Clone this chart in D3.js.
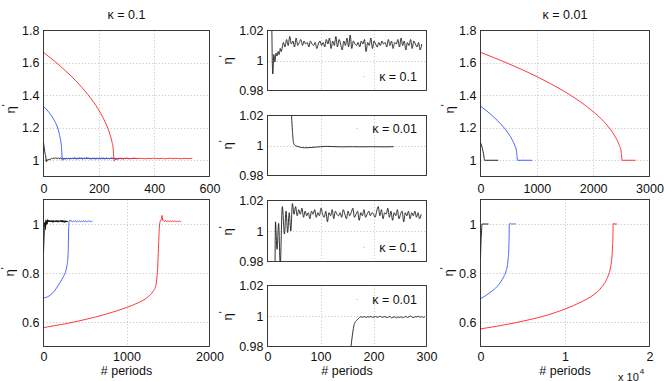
<!DOCTYPE html>
<html><head><meta charset="utf-8">
<script src="https://cdn.jsdelivr.net/npm/d3@7"></script>
<style>
body{margin:0;background:#fff}
text{font-family:"Liberation Sans",Arial,Helvetica,sans-serif;fill:#111}
</style>
</head><body>
<svg id="c" width="664" height="381"></svg>
<script>
// ---------------- DATA ----------------
const titles = ["κ = 0.1", "κ = 0.01"];
const legendLabels = ["κ = 0.1", "κ = 0.01", "κ = 0.1", "κ = 0.01"];

// tick values / labels
const tlXTicks = [0, 200, 400, 600],  tlXLabels = ["0", "200", "400", "600"];
const tlYTicks = [1, 1.2, 1.4, 1.6, 1.8], tlYLabels = ["1", "1.2", "1.4", "1.6", "1.8"];
const blXTicks = [0, 1000, 2000], blXLabels = ["0", "1000", "2000"];
const blYTicks = [0.6, 0.8, 1], blYLabels = ["0.6", "0.8", "1"];
const trXTicks = [0, 1000, 2000, 3000], trXLabels = ["0", "1000", "2000", "3000"];
const brXTicks = [0, 10000, 20000], brXLabels = ["0", "1", "2"];
const mXTicks = [0, 100, 200, 300], mXLabels = ["0", "100", "200", "300"];
const mYTicks = [0.98, 1, 1.02], mYLabels = ["0.98", "1", "1.02"];

// kappa = 0.1, start from eta' > 1 (black) : initial part and noisy tail (x from 30, every 3 periods)
const k01HighBlackStart = [[0,1.11],[3,1.07],[6,1.04],[8,1.025],[9,1.0],[10,0.991],[12,1.004],[14,0.999],[16,1.005],[18,1.003],[20,1.006],[22,1.004],[24,1.008],[26,1.006],[28,1.009]];
const k01HighBlackTail = [
1.012,1.009,1.014,1.010,1.016,1.011,1.013,1.009,1.015,1.010,
1.012,1.014,1.010,1.013,1.011,1.012,1.009,1.013,1.011,1.010,
1.012,1.008,1.011,1.013,1.010,1.012,1.009,1.014,1.011,1.015,
1.008,1.013,1.010,1.016,1.009,1.014,1.011,1.007,1.013,1.010,
1.015,1.009,1.017,1.008,1.013,1.011,1.010,1.012,1.009,1.013,
1.011,1.014,1.006,1.012,1.010,1.015,1.008,1.013,1.011,1.009,
1.012,1.010,1.013,1.011,1.012,1.009,1.014,1.010,1.013,1.008,
1.012,1.011,1.014,1.009,1.015,1.010,1.013,1.007,1.012,1.010,
1.014,1.008,1.013,1.011,1.009,1.012,1.007,1.011];
const k01HighBlue = [[0,1.333],[10,1.315],[20,1.295],[30,1.272],[40,1.243],[50,1.205],[56,1.17],[61,1.13],[65,1.08],[68,1.0]];
const k01HighBlueTail = [1.006,1.009,1.011,1.010,1.012,1.009,1.011,1.013,1.010,1.012,1.009,1.011,1.012,1.010,1.013,1.009,1.011,1.010,1.012,1.011,1.009,1.012,1.010,1.013,1.011,1.010,1.012,1.011];
const k01HighRed = [[0,1.665],[20,1.638],[40,1.611],[60,1.582],[80,1.551],[100,1.519],[120,1.484],[140,1.447],[160,1.406],[180,1.361],[200,1.309],[215,1.263],[230,1.208],[240,1.161],[248,1.110],[252,1.072],[255,0.995]];
const k01HighRedTail = [1.004,1.008,1.011,1.010,1.012,1.009,1.011,1.013,1.010,1.012,1.011,1.009,1.012,1.010,1.013,1.011,1.010,1.012,1.009,1.011,1.013,1.010,1.012,1.011,1.009,1.012,1.010,1.011,1.012];

// kappa = 0.1, start from eta' < 1
const k01LowBlackStart = [[0,0.88],[4,0.92],[8,0.95],[12,0.97],[14,0.975],[15,1.006],[18,0.988],[21,1.005],[24,0.978],[28,1.016],[32,0.998],[35,1.013],[38,0.999],[41,1.012],[44,1.0],[47,1.018],[50,1.011]];
const k01LowBlackTail = [
1.016,1.010,1.014,1.011,1.015,1.009,1.013,1.010,1.012,1.008,
1.013,1.011,1.014,1.009,1.012,1.010,1.015,1.011,1.009,1.013,
1.006,1.012,1.010,1.014,1.008,1.013,1.011,1.010,1.012,1.009,
1.014,1.011,1.008,1.013,1.010,1.012,1.015,1.009,1.011,1.013,
1.007,1.012,1.010,1.014,1.009,1.011,1.013,1.010,1.012,1.011,
1.009,1.013,1.016,1.010,1.014,1.008,1.012,1.011,1.015,1.009,
1.013,1.007,1.012,1.010,1.014,1.008,1.011,1.013,1.006,1.012,
1.010,1.013,1.008,1.012,1.010,1.013,1.009,1.012,1.008,1.011];
const k01LowBlue = [[0,0.698],[50,0.703],[100,0.715],[150,0.735],[200,0.762],[240,0.785],[270,0.81],[285,0.835],[295,0.87],[300,0.92],[303,0.98],[307,1.005]];
const k01LowBlueTail = [1.012,1.016,1.011,1.013,1.009,1.012,1.010,1.014,1.011,1.009,1.012,1.010,1.013,1.011,1.009,1.012,1.010,1.013,1.011,1.010,1.012,1.009,1.011,1.013,1.010,1.012,1.011,1.010,1.012];
const k01LowRed = [[0,0.577],[250,0.592],[500,0.610],[750,0.632],[1000,0.659],[1150,0.68],[1250,0.70],[1320,0.725],[1350,0.745],[1365,0.775],[1375,0.82],[1385,0.90],[1395,0.98],[1405,1.01],[1420,1.02],[1428,1.035],[1435,1.015]];
const k01LowRedTail = [1.018,1.013,1.011,1.014,1.010,1.012,1.011,1.013,1.009,1.012,1.010,1.011,1.013,1.010,1.012,1.011,1.009,1.012,1.010,1.011,1.012,1.010,1.011];

// kappa = 0.01, start from eta' > 1
const k001HighBlack = [[0,1.108],[15,1.095],[30,1.078],[45,1.055],[58,1.03],[66,1.012],[72,1.0],[313,1.0]];
const k001HighBlue = [[0,1.333],[100,1.307],[200,1.278],[300,1.245],[400,1.208],[500,1.163],[560,1.128],[610,1.089],[640,1.054],[657,1.0],[916,1.0]];
const k001HighRed = [[0,1.665],[250,1.631],[500,1.595],[750,1.557],[1000,1.516],[1250,1.471],[1500,1.422],[1750,1.366],[2000,1.300],[2150,1.253],[2300,1.193],[2400,1.140],[2460,1.096],[2500,1.046],[2512,1.0],[2753,1.0]];
const k001HighBlackZoom = [[44,1.03],[47,1.01],[49,1.002],[52,1.0],[56,0.9995],[62,0.9988],[70,0.9985],[80,0.9986],[90,0.9989],[100,0.9992],[110,0.9994],[120,0.9993],[140,0.9991],[160,0.9992],[180,0.9991],[200,0.9992],[220,0.9991],[238,0.9992]];

// kappa = 0.01, start from eta' < 1
const k001LowBlack = [[0,0.86],[40,0.91],[90,0.95],[130,0.975],[160,0.995],[180,1.0],[950,1.0]];
const k001LowBlue = [[0,0.695],[500,0.705],[1000,0.717],[1500,0.73],[2000,0.746],[2400,0.764],[2770,0.786],[3000,0.805],[3170,0.828],[3280,0.86],[3350,0.9],[3390,0.95],[3410,1.0],[3600,1.002],[3700,0.999],[3800,1.001],[3900,0.999],[4000,1.001],[4180,1.0]];
const k001LowRed = [[0,0.572],[2000,0.583],[4000,0.596],[6000,0.611],[8000,0.629],[10000,0.653],[11000,0.667],[12000,0.683],[13000,0.702],[13800,0.722],[14400,0.745],[14900,0.772],[15200,0.797],[15400,0.825],[15550,0.865],[15630,0.91],[15680,0.96],[15700,1.0],[15750,1.003],[15800,1.0],[16150,1.0]];
const k001LowBlackZoomStart = [[157,0.978],[160,0.987],[164,0.995],[168,0.997],[172,0.9985],[176,0.9995],[180,0.9992]];
const k001LowBlackZoomTail = [
0.9996,0.9990,0.9995,0.9993,0.9997,0.9991,0.9994,0.9996,0.9992,0.9995,
0.9998,0.9990,0.9994,0.9996,0.9989,0.9993,0.9997,0.9988,0.9992,0.9995,
0.9987,0.9994,0.9990,0.9996,0.9988,0.9993,0.9997,0.9991,0.9995,0.9999,
0.9993,0.9990,0.9996,0.9994,0.9998,0.9992,0.9996,0.9991,0.9995];

// ---------------- HELPERS ----------------
function withTail(start, x0, step, ys){ return start.concat(ys.map((v,i)=>[x0+step*i, v])); }

const k01HighBlackAll = withTail(k01HighBlackStart, 30, 3, k01HighBlackTail);
const k01LowBlackAll  = withTail(k01LowBlackStart, 53, 3, k01LowBlackTail);
const k01HighBlueAll  = withTail(k01HighBlue, 70, 10, k01HighBlueTail);
const k01HighRedAll   = withTail(k01HighRed, 258, 10, k01HighRedTail);
const k01LowBlueAll   = withTail(k01LowBlue, 310, 10, k01LowBlueTail);
const k01LowRedAll    = withTail(k01LowRed, 1440, 10, k01LowRedTail);
const k001LowBlackZoomAll = withTail(k001LowBlackZoomStart, 183, 3, k001LowBlackZoomTail);

const RED = "#ff2424", BLUE = "#3355ff", BLACK = "#111", DARK = "#1c1c1c";

const svg = d3.select("#c");
svg.append("rect").attr("width",664).attr("height",381).attr("fill","#fff");

const panels = [
 {x0:43.5,x1:209.5,y0:30.5,y1:176.5,xd:[0,600],yd:[0.9,1.8],xt:tlXTicks,xl:tlXLabels,yt:tlYTicks,yl:tlYLabels,xb:192.5,
  series:[[k01HighBlackAll,BLACK],[k01HighBlueAll,BLUE],[k01HighRedAll,RED]], ylab:[14.5,109]},
 {x0:43.5,x1:209.5,y0:199.5,y1:346.5,xd:[0,2000],yd:[0.5,1.1],xt:blXTicks,xl:blXLabels,yt:blYTicks,yl:blYLabels,xb:360.5,
  series:[[k01LowBlackAll,BLACK],[k01LowBlueAll,BLUE],[k01LowRedAll,RED]], ylab:[14,272]},
 {x0:480.5,x1:649.5,y0:30.5,y1:176.5,xd:[0,3000],yd:[0.9,1.8],xt:trXTicks,xl:trXLabels,yt:tlYTicks,yl:tlYLabels,xb:192.5,
  series:[[k001HighBlack,BLACK],[k001HighBlue,BLUE],[k001HighRed,RED]], ylab:[453.5,109]},
 {x0:480.5,x1:649.5,y0:199.5,y1:346.5,xd:[0,20000],yd:[0.5,1.1],xt:brXTicks,xl:brXLabels,yt:blYTicks,yl:blYLabels,xb:360.5,
  series:[[k001LowBlack,BLACK],[k001LowBlue,BLUE],[k001LowRed,RED]], ylab:[453,272]},
 {x0:267.5,x1:426.5,y0:30.5,y1:90.5,xd:[0,300],yd:[0.98,1.02],xt:mXTicks,xl:null,yt:mYTicks,yl:mYLabels,
  series:[[k01HighBlackAll,DARK]], ylab:[232,60], leg:[0,81,363]},
 {x0:267.5,x1:426.5,y0:115.5,y1:175.5,xd:[0,300],yd:[0.98,1.02],xt:mXTicks,xl:null,yt:mYTicks,yl:mYLabels,
  series:[[k001HighBlackZoom,DARK]], ylab:[232,145], leg:[1,133,356]},
 {x0:267.5,x1:426.5,y0:200.5,y1:261.5,xd:[0,300],yd:[0.98,1.02],xt:mXTicks,xl:null,yt:mYTicks,yl:mYLabels,
  series:[[k01LowBlackAll,DARK]], ylab:[232,231], leg:[2,252,363]},
 {x0:267.5,x1:426.5,y0:285.5,y1:346.5,xd:[0,300],yd:[0.98,1.02],xt:mXTicks,xl:mXLabels,yt:mYTicks,yl:mYLabels,xb:360.5,
  series:[[k001LowBlackZoomAll,DARK]], ylab:[232,316], leg:[3,304,356]}
];

panels.forEach((p,pi)=>{
  const x = d3.scaleLinear().domain(p.xd).range([p.x0,p.x1]);
  const y = d3.scaleLinear().domain(p.yd).range([p.y1,p.y0]);
  const g = svg.append("g");
  // grid
  g.selectAll("line.gx").data(p.xt.filter(v=>v>p.xd[0]&&v<p.xd[1])).enter().append("line")
    .attr("x1",d=>Math.round(x(d))+0.5).attr("x2",d=>Math.round(x(d))+0.5).attr("y1",p.y0).attr("y2",p.y1)
    .attr("stroke","#a8a8a8").attr("stroke-width",0.7).attr("stroke-dasharray","1,2.2");
  g.selectAll("line.gy").data(p.yt.filter(v=>v>p.yd[0]+1e-9&&v<p.yd[1]-1e-9)).enter().append("line")
    .attr("y1",d=>Math.round(y(d))+0.5).attr("y2",d=>Math.round(y(d))+0.5).attr("x1",p.x0).attr("x2",p.x1)
    .attr("stroke","#a8a8a8").attr("stroke-width",0.7).attr("stroke-dasharray","1,2.2");
  // clip
  const cid = "clip"+pi;
  svg.append("clipPath").attr("id",cid).append("rect")
    .attr("x",p.x0).attr("y",p.y0).attr("width",p.x1-p.x0).attr("height",p.y1-p.y0);
  const line = d3.line().x(d=>x(d[0])).y(d=>y(d[1])).curve(d3.curveMonotoneX);
  const lg = g.append("g").attr("clip-path","url(#"+cid+")");
  p.series.forEach(([d,c])=>{
    lg.append("path").attr("d",line(d)).attr("fill","none").attr("stroke",c)
      .attr("stroke-width",0.9).attr("stroke-linejoin","round");
  });
  // border
  g.append("rect").attr("x",p.x0).attr("y",p.y0).attr("width",p.x1-p.x0).attr("height",p.y1-p.y0)
    .attr("fill","none").attr("stroke","#262626").attr("stroke-width",0.9);
  // y axis labels
  const ya = g.append("g").attr("transform","translate("+p.x0+",0)")
    .call(d3.axisLeft(y).tickValues(p.yt).tickFormat((d,i)=>p.yl[i]).tickSize(0).tickPadding(4));
  ya.select(".domain").remove();
  ya.selectAll("text").attr("font-size","12.5px").attr("font-family",null).attr("fill","#111");
  // x axis labels
  if (p.xl){
    const xa = g.append("g").attr("transform","translate(0,"+p.y1+")")
      .call(d3.axisBottom(x).tickValues(p.xt).tickFormat((d,i)=>p.xl[i]).tickSize(0));
    xa.select(".domain").remove();
    xa.selectAll("text").attr("dy",null).attr("y",p.xb-p.y1).attr("font-size","12.5px")
      .attr("font-family",null).attr("fill","#111");
  }
  // y label eta'
  const yl = g.append("text").attr("transform","translate("+p.ylab[0]+","+p.ylab[1]+") rotate(-90)")
    .attr("text-anchor","middle").attr("font-size","13px");
  yl.append("tspan").text("η");
  yl.append("tspan").attr("dy",-5).attr("font-size","10px").text("'");
  // legend
  if (p.leg){
    g.append("line").attr("x1",p.leg[2]).attr("x2",p.leg[2]+1.5).attr("y1",p.leg[1]-4.5).attr("y2",p.leg[1]-4.5)
      .attr("stroke","#cfcfcf").attr("stroke-width",1);
    g.append("text").attr("x",417).attr("y",p.leg[1]).attr("text-anchor","end")
      .attr("font-size","12.5px").text(legendLabels[p.leg[0]]);
  }
  if (pi===0) g.append("text").attr("x",(p.x0+p.x1)/2).attr("y",19).attr("text-anchor","middle").attr("font-size","12.5px").text(titles[0]);
  if (pi===2) g.append("text").attr("x",(p.x0+p.x1)/2).attr("y",19).attr("text-anchor","middle").attr("font-size","12.5px").text(titles[1]);
  if (pi===1||pi===3||pi===7) g.append("text").attr("x",(p.x0+p.x1)/2).attr("y",375).attr("text-anchor","middle").attr("font-size","12.5px").text("# periods");
  if (pi===3){
    const t = g.append("text").attr("x",618).attr("y",380.5).attr("font-size","11px");
    t.append("tspan").text("x 10");
    t.append("tspan").attr("dy",-7).attr("dx",1).attr("font-size","8px").text("4");
  }
});
</script>
</body></html>
